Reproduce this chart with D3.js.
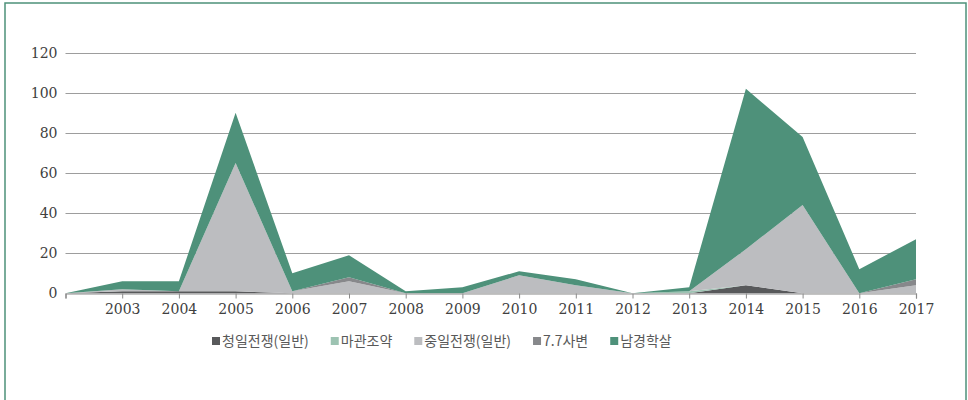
<!DOCTYPE html>
<html>
<head>
<meta charset="utf-8">
<script src="https://cdn.jsdelivr.net/npm/d3@7"></script>
<style>
  body { margin: 0; background: #fff; }
  svg { display: block; }
</style>
</head>
<body>
<svg width="968" height="400"></svg>
<script>
// categories (first slot has no label)
const years = ["", "2003", "2004", "2005", "2006", "2007", "2008", "2009", "2010", "2011", "2012", "2013", "2014", "2015", "2016", "2017"];
const seriesNames = ["청일전쟁(일반)", "마관조약", "중일전쟁(일반)", "7.7사변", "남경학살"];
const cheongil = [0, 1, 1, 1, 0, 0, 0, 0, 0, 0, 0, 0, 4, 0, 0, 0];
const magwan   = [0, 0, 0, 0, 0, 0, 0, 0, 0, 0, 0, 1, 0, 0, 0, 0];
const jungil   = [0, 1, 0, 64, 1, 6, 0, 0, 9, 4, 0, 0, 18, 44, 0, 4];
const sabyeon  = [0, 0, 0, 0, 0, 2, 0, 0, 0, 0, 0, 0, 0, 0, 0, 3];
const namgyeong = [0, 4, 5, 25, 9, 11, 1, 3, 2, 3, 0, 2, 80, 34, 12, 20];
const yTicks = [0, 20, 40, 60, 80, 100, 120];

const colors = ["#58595b", "#9dc3b2", "#bcbdc0", "#87888b", "#4e917a"];
const allSeries = [cheongil, magwan, jungil, sabyeon, namgyeong];

const svg = d3.select("svg");

// frame
svg.append("rect")
   .attr("x", 5).attr("y", 3)
   .attr("width", 961).attr("height", 420)
   .attr("fill", "none")
   .attr("stroke", "#4e917a")
   .attr("stroke-width", 1.5);

const rows = years.map((y, i) => {
  const r = {i: i};
  seriesNames.forEach((k, j) => r[k] = allSeries[j][i]);
  return r;
});

const x = d3.scalePoint().domain(d3.range(years.length)).range([65.5, 916]);
const y = d3.scaleLinear().domain([0, 120]).range([293.3, 52.7]);

// gridlines
svg.append("g")
   .selectAll("line")
   .data(yTicks.filter(d => d > 0))
   .join("line")
   .attr("x1", 65.5).attr("x2", 916)
   .attr("y1", d => Math.round(y(d)) + 0.5).attr("y2", d => Math.round(y(d)) + 0.5)
   .attr("stroke", "#9d9d9d").attr("stroke-width", 1.2);

// areas
const stacked = d3.stack().keys(seriesNames)(rows);
const area = d3.area()
   .x(d => x(d.data.i))
   .y0(d => y(d[0]))
   .y1(d => y(d[1]));

svg.append("g")
   .selectAll("path")
   .data(stacked)
   .join("path")
   .attr("fill", (d, i) => colors[i])
   .attr("d", area);

// y axis labels
const yAxis = svg.append("g")
   .attr("transform", "translate(65.5,0)")
   .call(d3.axisLeft(y).tickValues(yTicks).tickSize(0).tickPadding(8));
yAxis.select(".domain").remove();
yAxis.selectAll("text")
   .attr("font-family", "'DejaVu Serif', serif")
   .attr("font-size", "14px")
   .attr("fill", "#404040");

// x axis
const xAxis = svg.append("g")
   .attr("transform", "translate(0," + (Math.round(y(0)) + 0.5) + ")")
   .call(d3.axisBottom(x).tickFormat(i => years[i]).tickSizeOuter(0).tickSize(5).tickPadding(6));
xAxis.select(".domain").attr("stroke", "#8a8a8a").attr("stroke-width", 1.2);
xAxis.selectAll(".tick line").attr("stroke", "#8a8a8a");
xAxis.selectAll("text")
   .attr("font-family", "'DejaVu Serif', serif")
   .attr("font-size", "14px")
   .attr("fill", "#404040");

// legend
const legend = svg.append("g").attr("transform", "translate(212,341)");
let lx = 0;
seriesNames.forEach((name, i) => {
  const item = legend.append("g").attr("transform", "translate(" + lx + ",0)");
  item.append("rect")
      .attr("x", 0).attr("y", -4)
      .attr("width", 8).attr("height", 8)
      .attr("fill", colors[i]);
  const t = item.append("text")
      .attr("x", 10).attr("y", 0)
      .attr("dy", "0.36em")
      .attr("font-family", "'Noto Sans CJK KR', sans-serif")
      .attr("font-size", "14px")
      .attr("fill", "#595959")
      .text(name);
  lx += 10 + t.node().getComputedTextLength() + 22;
});
</script>
</body>
</html>
